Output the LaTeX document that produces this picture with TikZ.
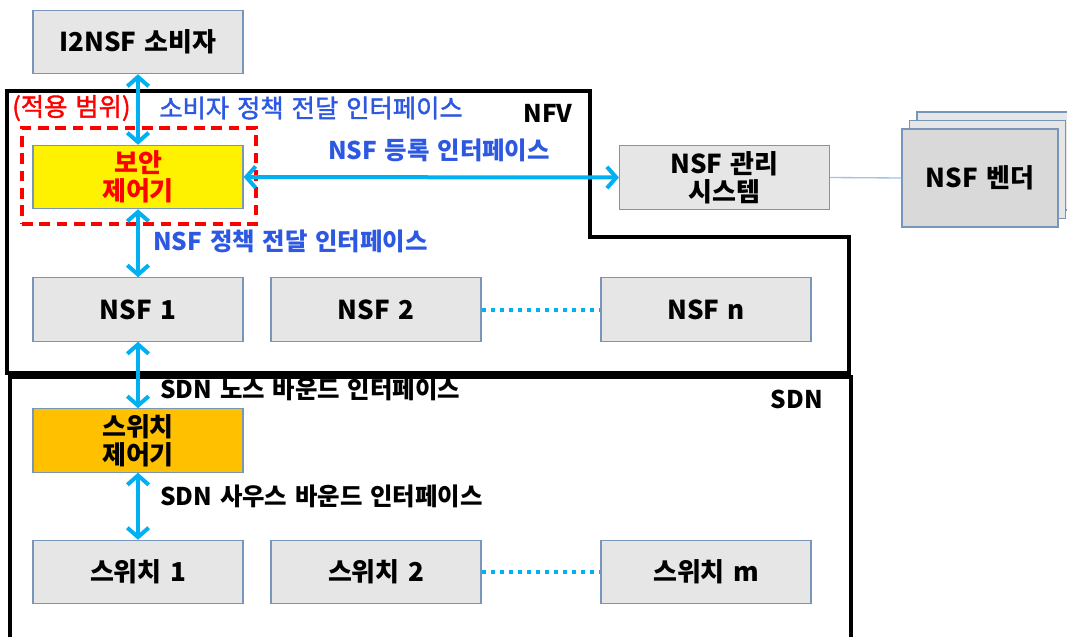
\documentclass[tikz,border=0pt]{standalone}
\usepackage{fontspec}
\setmainfont{Noto Sans CJK KR}[WordSpace=1.4]
\newfontfamily\krmed{Noto Sans CJK KR}[WordSpace=1.4, FakeBold=1.6]
\usetikzlibrary{arrows.meta}
\definecolor{boxg}{RGB}{230,230,230}
\definecolor{vendg}{RGB}{217,217,217}
\definecolor{bordc}{RGB}{120,150,185}
\definecolor{cyanc}{RGB}{0,176,240}
\definecolor{lblue}{RGB}{45,88,225}
\definecolor{orangec}{RGB}{255,192,0}
\definecolor{thinb}{RGB}{157,195,230}
\begin{document}
\begin{tikzpicture}[x=0.75pt,y=-0.75pt,
  gbox/.style={draw=bordc, fill=boxg, line width=0.9pt, minimum width=157.5pt, minimum height=47.5pt, inner sep=0pt, align=center, font=\fontsize{19.5}{21}\selectfont\bfseries},
  vbox/.style={draw=bordc, fill=vendg, line width=0.9pt, minimum width=117pt, minimum height=73.5pt, inner sep=0pt, align=center, font=\fontsize{19.5}{21}\selectfont\bfseries},
  lbl/.style={inner sep=0pt, font=\fontsize{18.3}{20}\selectfont\bfseries},
  rlbl/.style={inner sep=0pt, font=\fontsize{19}{21}\krmed},
  blbl/.style={lbl, text=lblue},
  scopest/.style={draw=red, line width=2.6pt, dash pattern=on 8pt off 5pt, minimum width=175.5pt, minimum height=72pt, inner sep=0pt},
  arr/.style={draw=cyanc, line width=3pt, {Straight Barb[length=7pt,width=16pt]}-{Straight Barb[length=7pt,width=16pt]}},
  dotl/.style={draw=cyanc, line width=3pt, dash pattern=on 3pt off 3.8pt},
  frame/.style={draw=black, line width=3pt}
]
\useasboundingbox (0,0) rectangle (1067,636);
% outlines
\draw[frame] (7,91) -- (590,91) -- (590,237) -- (849,237) -- (849,373) -- (7,373) -- cycle;
\draw[frame] (10,640) -- (10,377) -- (851,377) -- (851,640);
% nodes
\node[gbox] (cons) at (138,42) {I2NSF 소비자};
\node[scopest] (scopebox) at (139,176) {};
\node[gbox, fill=yellow, text=red] (sec) at (138,177) {보안\\제어기};
\node[gbox] (mgmt) at (724.5,177.5) {NSF 관리\\시스템};
\node[vbox, fill=boxg] (v3) at (995,161) {};
\node[vbox, fill=boxg] (v2) at (987.5,169.5) {};
\node[vbox] (vend) at (980,178) {NSF 벤더};
\node[gbox] (nsf1) at (138,309.5) {NSF 1};
\node[gbox] (nsf2) at (376,309.5) {NSF 2};
\node[gbox] (nsfn) at (706,309.5) {NSF n};
\node[gbox, fill=orangec] (swc) at (138,440.5) {스위치\\제어기};
\node[gbox] (sw1) at (138,572) {스위치 1};
\node[gbox] (sw2) at (376,572) {스위치 2};
\node[gbox] (swm) at (706,572) {스위치 m};
% labels
\node[rlbl, text=red, anchor=west] (scopel) at (12,108) {(적용 범위)};
\node[rlbl, text=lblue, anchor=west] (l1) at (159,108) {소비자 정책 전달 인터페이스};
\node[lbl] (nfvl) at (548,113) {NFV};
\node[blbl] (l2) at (439,150) {NSF 등록 인터페이스};
\node[blbl, anchor=west] (l3) at (153,241) {NSF 정책 전달 인터페이스};
\node[lbl, anchor=west] (l4) at (160,389) {SDN 노스 바운드 인터페이스};
\node[lbl] (sdnl) at (797,399) {SDN};
\node[lbl, anchor=west] (l5) at (160,496) {SDN 사우스 바운드 인터페이스};
% connectors
\draw[arr] (cons.south) -- (sec.north);
\draw[arr] (sec.east) -- (mgmt.west);
\draw[arr] (sec.south) -- (nsf1.north);
\draw[arr] (nsf1.south) -- (swc.north);
\draw[arr] (swc.south) -- (sw1.north);
\draw[draw=thinb, line width=1pt] (mgmt.east) -- (vend.west);
\draw[dotl] (nsf2.east) -- (nsfn.west);
\draw[dotl] (sw2.east) -- (swm.west);
\end{tikzpicture}
\end{document}
